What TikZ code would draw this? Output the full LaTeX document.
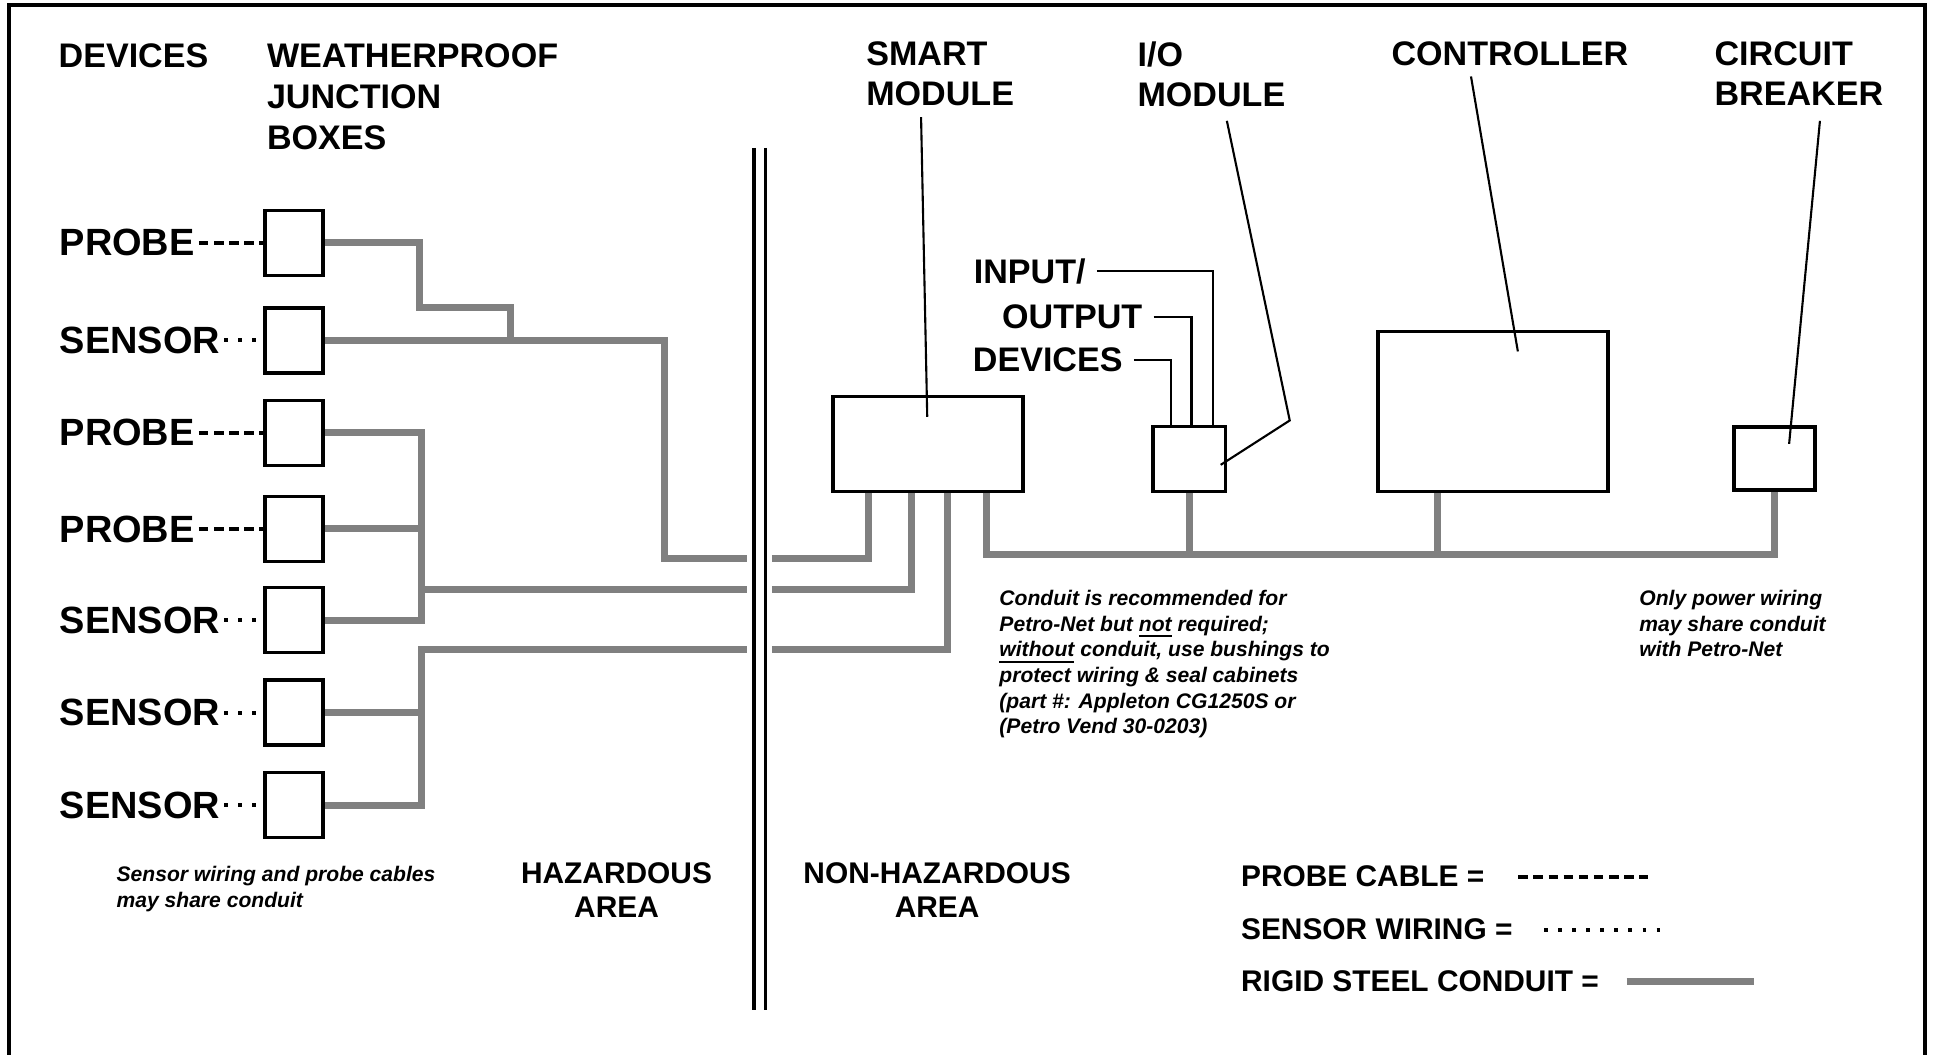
\documentclass[tikz,border=0pt]{standalone}
\usepackage{fontspec}
\setmainfont{Liberation Sans}
\usetikzlibrary{calc}

\definecolor{conduitgray}{RGB}{128,128,128}

\tikzset{
	jbox/.style={draw, line width=1pt, minimum width=0.58cm, minimum height=0.65cm, inner sep=0pt},
	unitbox/.style={draw, line width=1pt, inner sep=0pt, anchor=south},
	hdr/.style={anchor=north west, align=left, inner sep=0pt, font=\fontsize{9.7}{11.6}\selectfont\bfseries},
	iolbl/.style={anchor=east, inner sep=0pt, font=\fontsize{9.7}{11.6}\selectfont\bfseries},
	devlbl/.style={anchor=west, inner sep=1pt, font=\fontsize{10.8}{13}\selectfont\bfseries},
	note/.style={anchor=north west, align=left, inner sep=0pt, font=\fontsize{6}{7.3}\selectfont\bfseries\itshape},
	area/.style={align=center, inner sep=0pt, font=\fontsize{8.5}{9.8}\selectfont\bfseries},
	legend/.style={anchor=west, inner sep=0pt, font=\fontsize{8.5}{10}\selectfont\bfseries},
	conduit/.style={draw=conduitgray, line width=2pt},
	probecable/.style={line width=1.1pt, dash pattern=on 2.7pt off 1.6pt},
	sensorwire/.style={line width=1.1pt, dash pattern=on 1.1pt off 2.9pt},
	pointer/.style={line width=0.6pt},
}

\begin{document}
\begin{tikzpicture}[x=0.01233cm, y=-0.01233cm]
			\useasboundingbox (0,0) rectangle (1567.7,855.6);

			% frame
			\draw[line width=1.1pt] (7,857) -- (7,4) -- (1561,4) -- (1561,857);

			% headings
			\node[hdr] (devhd) at (47,35) {DEVICES};
			\node[hdr] (jbhd) at (216,35) {WEATHERPROOF\\JUNCTION\\BOXES};
			\node[hdr] (smarthd) at (702,33) {SMART\\MODULE};
			\node[hdr] (iohd) at (922,33) {I/O\\MODULE};
			\node[hdr] (ctrlhd) at (1128,33) {CONTROLLER};
			\node[hdr] (cbhd) at (1390,33) {CIRCUIT\\BREAKER};

			% junction boxes
			\node[jbox] (jb1) at (238.5,197) {};
			\node[jbox] (jb2) at (238.5,276) {};
			\node[jbox] (jb3) at (238.5,351) {};
			\node[jbox] (jb4) at (238.5,429) {};
			\node[jbox] (jb5) at (238.5,503) {};
			\node[jbox] (jb6) at (238.5,578) {};
			\node[jbox] (jb7) at (238.5,653) {};

			% devices
			\node[devlbl] (dev1) at (45,197) {PROBE};
			\node[devlbl] (dev2) at (45,276) {SENSOR};
			\node[devlbl] (dev3) at (45,351) {PROBE};
			\node[devlbl] (dev4) at (45,429) {PROBE};
			\node[devlbl] (dev5) at (45,503) {SENSOR};
			\node[devlbl] (dev6) at (45,578) {SENSOR};
			\node[devlbl] (dev7) at (45,653) {SENSOR};

			\draw[probecable] (dev1) -- (jb1);
			\draw[sensorwire] (dev2) -- (jb2);
			\draw[probecable] (dev3) -- (jb3);
			\draw[probecable] (dev4) -- (jb4);
			\draw[sensorwire] (dev5) -- (jb5);
			\draw[sensorwire] (dev6) -- (jb6);
			\draw[sensorwire] (dev7) -- (jb7);

			% units in the non-hazardous area
			\node[unitbox, minimum width=1.9cm, minimum height=0.95cm] (smart) at (752.6,400) {};
			\node[unitbox, minimum width=0.72cm, minimum height=0.65cm] (iomod) at (964.5,400) {};
			\node[unitbox, minimum width=2.3cm, minimum height=1.6cm] (ctrl) at (1211,400) {};
			\node[unitbox, minimum width=0.81cm, minimum height=0.63cm] (cb) at (1439,399) {};

			% boundary
			\draw[line width=0.9pt] (611.5,120) -- (611.5,819);
			\draw[line width=0.9pt] (620.5,120) -- (620.5,819);

			\coordinate (hz1) at (606,453);
			\coordinate (hz2) at (606,478);
			\coordinate (hz3) at (606,527);
			\coordinate (nh1) at (626,453);
			\coordinate (nh2) at (626,478);
			\coordinate (nh3) at (626,527);

			% conduit, hazardous side
			\draw[conduit] (jb1.east) -| (340,249) -| (414,276);
			\draw[conduit] (jb2.east) -| (539,453) -- (hz1);
			\draw[conduit] (jb3.east) -| (342,503) -- (jb5.east);
			\draw[conduit] (jb4.east) -- (342,429);
			\draw[conduit] (342,478) -- (hz2);
			\draw[conduit] (jb7.east) -| (342,527) -- (hz3);
			\draw[conduit] (jb6.east) -- (342,578);

			% conduit, non-hazardous side
			\draw[conduit] (nh1) -| ($(smart.south west)!0.195!(smart.south east)$);
			\draw[conduit] (nh2) -| ($(smart.south west)!0.416!(smart.south east)$);
			\draw[conduit] (nh3) -| ($(smart.south west)!0.6!(smart.south east)$);
			\draw[conduit] ($(smart.south west)!0.8!(smart.south east)$) |- (cb.south |- 0,450) -- (cb.south);
			\draw[conduit] (iomod.south) -- (iomod.south |- 0,450);
			\draw[conduit] ($(ctrl.south west)!0.26!(ctrl.south east)$) -- ++(0,50);

			% input/output devices
			\node[iolbl] (inlbl) at (881,220) {INPUT/};
			\node[iolbl] (outlbl) at (927,257) {OUTPUT};
			\node[iolbl] (iodevlbl) at (911,292) {DEVICES};
			\draw[pointer] ([xshift=3pt]inlbl.east) -| ($(iomod.north west)!0.82!(iomod.north east)$);
			\draw[pointer] ([xshift=3pt]outlbl.east) -| ($(iomod.north west)!0.53!(iomod.north east)$);
			\draw[pointer] ([xshift=3pt]iodevlbl.east) -| ($(iomod.north west)!0.26!(iomod.north east)$);

			% pointers from the headings
			\draw[pointer] (747,95) -- (752,338);
			\draw[pointer] (995,98) -- (1046,341) -- (990,377);
			\draw[pointer] (1193,62) -- (1231,285);
			\draw[pointer] (1476,98) -- (1451,360);

			% notes
			\node[note] (cnote) at (810,478) {Conduit is recommended for\\Petro-Net but \underline{not} required;\\\underline{without} conduit, use bushings to\\protect wiring \& seal cabinets\\(part \#: Appleton CG1250S or\\(Petro Vend 30-0203)};
			\node[note] (pnote) at (1329,478) {Only power wiring\\may share conduit\\with Petro-Net};
			\node[note] (snote) at (94,702) {Sensor wiring and probe cables\\may share conduit};

			\node[area] (hazlbl) at (500,722) {HAZARDOUS\\AREA};
			\node[area] (nonhazlbl) at (760,722) {NON-HAZARDOUS\\AREA};

			% legend
			\node[legend] (lgprobe) at (1006,711) {PROBE CABLE =};
			\node[legend] (lgsensor) at (1006,754) {SENSOR WIRING =};
			\node[legend] (lgconduit) at (1006,796) {RIGID STEEL CONDUIT =};
			\draw[probecable] ($(lgprobe.east)+(27,0)$) -- ++(105,0);
			\draw[sensorwire] ($(lgsensor.east)+(25,0)$) -- ++(96,0);
			\draw[conduit] ($(lgconduit.east)+(22,0)$) -- ++(103,0);
		\end{tikzpicture}
\end{document}
